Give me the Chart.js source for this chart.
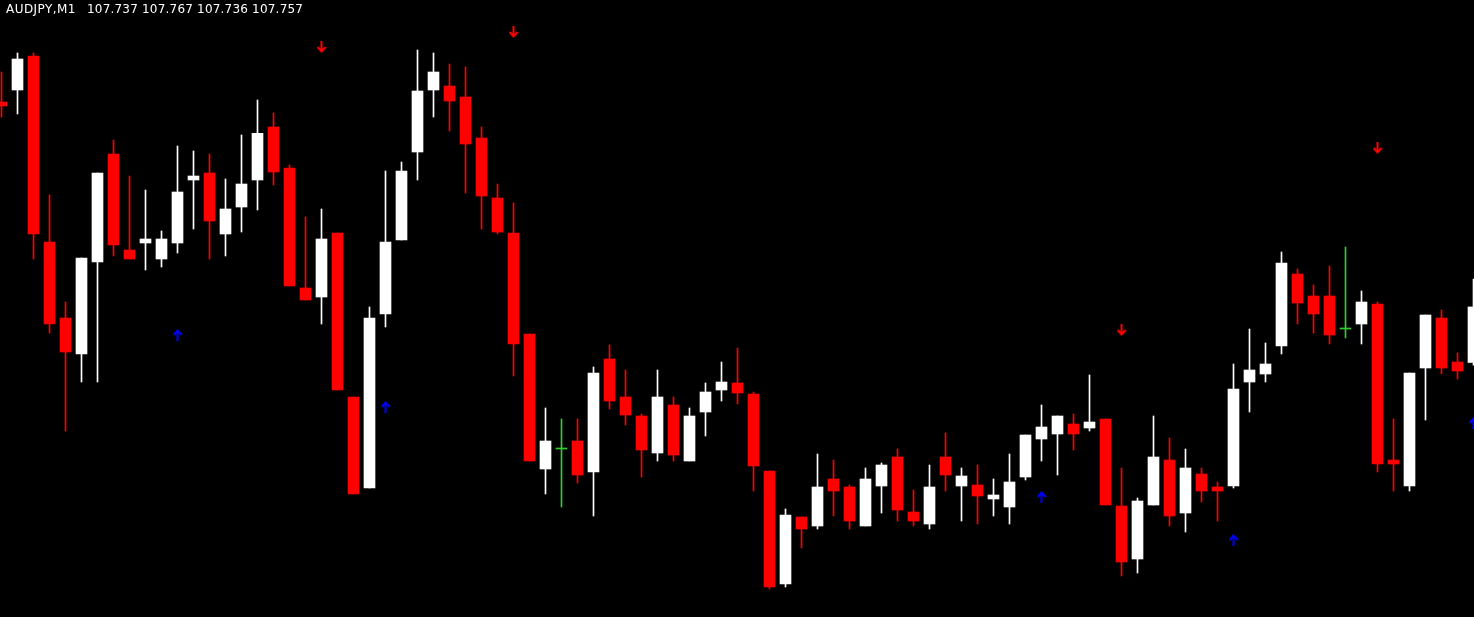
<!DOCTYPE html>
<html>
<head>
<meta charset="utf-8">
<title>AUDJPY,M1</title>
<script src="https://cdn.jsdelivr.net/npm/chart.js@4.4.0/dist/chart.umd.min.js"></script>
<style>
  html, body { margin: 0; padding: 0; background: #000; }
  #wrap { position: relative; width: 1474px; height: 617px; overflow: hidden; }
  #caption { position: absolute; left: 0; top: 2px; color: #fff; font: 12px "DejaVu Sans", sans-serif; line-height: 14px; white-space: pre; }
  #caption span { position: absolute; top: 0; }
</style>
</head>
<body>
<div id="wrap">
  <canvas id="priceChart"></canvas>
  <div id="caption"><span id="symbol" style="left:6px; letter-spacing:0.45px"></span><span id="ohlc" style="left:87px; letter-spacing:0.2px"></span></div>
</div>
<script>
const symbol = 'AUDJPY';
const period = 'M1';

// one bar per minute, oldest first (last bar is the live one)
const opens = [
  107.83078, 107.83510, 107.84734, 107.78038, 107.75302, 107.74006, 107.77318, 107.81206, 107.77750, 107.78002,
  107.77426, 107.78002, 107.80270, 107.80522, 107.78326, 107.79298, 107.80270, 107.82178, 107.80702, 107.76382,
  107.76058, 107.78362, 107.72458, 107.69182, 107.75446, 107.78110, 107.81278, 107.83510, 107.83654, 107.83258,
  107.81782, 107.79622, 107.78362, 107.74726, 107.69866, 107.70586, 107.70874, 107.69758, 107.73826, 107.72458,
  107.71774, 107.70442, 107.72170, 107.70154, 107.71918, 107.72710, 107.72962, 107.72566, 107.69794, 107.65726,
  107.68138, 107.67814, 107.69506, 107.69218, 107.67814, 107.69254, 107.70298, 107.68318, 107.67886, 107.70298,
  107.69254, 107.69290, 107.68786, 107.68498, 107.69578, 107.70946, 107.71126, 107.71486, 107.71342, 107.71666,
  107.68534, 107.66626, 107.68570, 107.70190, 107.68282, 107.69686, 107.69218, 107.69254, 107.72998, 107.73286,
  107.74294, 107.76886, 107.76094, 107.76094, 107.74906, 107.75086, 107.75806, 107.70190, 107.69254, 107.73502,
  107.75302, 107.73718, 107.737
];
const highs = [
  107.84158, 107.84842, 107.84842, 107.79730, 107.75878, 107.77462, 107.80522, 107.81710, 107.80414, 107.79910,
  107.78434, 107.81494, 107.81314, 107.81206, 107.80306, 107.81890, 107.83150, 107.82682, 107.80810, 107.78938,
  107.79226, 107.78362, 107.72458, 107.75698, 107.80594, 107.80918, 107.84950, 107.84842, 107.84446, 107.84338,
  107.82178, 107.80126, 107.79442, 107.74726, 107.72062, 107.71666, 107.71666, 107.73538, 107.74330, 107.73430,
  107.71846, 107.73430, 107.72458, 107.72062, 107.72962, 107.73718, 107.74222, 107.72638, 107.69794, 107.68426,
  107.68138, 107.70406, 107.70190, 107.69290, 107.69902, 107.70082, 107.70586, 107.69110, 107.70010, 107.71162,
  107.69902, 107.70010, 107.69506, 107.70406, 107.71090, 107.72170, 107.71774, 107.71846, 107.73250, 107.71666,
  107.69902, 107.68822, 107.71774, 107.70982, 107.70586, 107.69902, 107.69398, 107.73646, 107.74906, 107.74402,
  107.77678, 107.77066, 107.76490, 107.77174, 107.77858, 107.76274, 107.75878, 107.71666, 107.73322, 107.75410,
  107.75590, 107.74042, 107.767
];
const lows = [
  107.82538, 107.82646, 107.77426, 107.74762, 107.71234, 107.72998, 107.72998, 107.77534, 107.77426, 107.77030,
  107.77138, 107.77642, 107.78506, 107.77426, 107.77534, 107.78398, 107.79190, 107.80090, 107.76454, 107.75950,
  107.75086, 107.72710, 107.68966, 107.69182, 107.74978, 107.78110, 107.80270, 107.82538, 107.82034, 107.79802,
  107.78506, 107.78326, 107.73214, 107.70154, 107.68966, 107.68498, 107.69362, 107.68174, 107.72026, 107.71450,
  107.69578, 107.70154, 107.70154, 107.70154, 107.71054, 107.72314, 107.72206, 107.69074, 107.65546, 107.65618,
  107.67022, 107.67706, 107.68174, 107.67706, 107.67814, 107.68282, 107.67994, 107.67814, 107.67706, 107.69074,
  107.67994, 107.67886, 107.68174, 107.67886, 107.69470, 107.70154, 107.69650, 107.70550, 107.71234, 107.68570,
  107.66014, 107.66122, 107.68570, 107.67814, 107.67598, 107.68678, 107.67994, 107.69182, 107.71918, 107.72998,
  107.74006, 107.75086, 107.74762, 107.74366, 107.74582, 107.74366, 107.69758, 107.69074, 107.69074, 107.71630,
  107.73286, 107.73106, 107.736
];
const closes = [
  107.82934, 107.84626, 107.78326, 107.75086, 107.74078, 107.77462, 107.80522, 107.77930, 107.77426, 107.78146,
  107.78146, 107.79838, 107.80414, 107.78794, 107.79226, 107.80126, 107.81950, 107.80558, 107.76454, 107.75950,
  107.78146, 107.72710, 107.68966, 107.75302, 107.78038, 107.80594, 107.83474, 107.84158, 107.83114, 107.81566,
  107.79694, 107.78398, 107.74366, 107.70154, 107.70874, 107.70586, 107.69650, 107.73322, 107.72314, 107.71810,
  107.70550, 107.72458, 107.70370, 107.71774, 107.72638, 107.72998, 107.72602, 107.69974, 107.65618, 107.68210,
  107.67706, 107.69218, 107.69074, 107.67994, 107.69506, 107.70010, 107.68390, 107.67994, 107.69218, 107.69650,
  107.69614, 107.68894, 107.68930, 107.69398, 107.71090, 107.71378, 107.71774, 107.71126, 107.71558, 107.68570,
  107.66518, 107.68714, 107.70298, 107.68174, 107.69902, 107.69074, 107.69074, 107.72746, 107.73430, 107.73646,
  107.77282, 107.75842, 107.75446, 107.74690, 107.74906, 107.75878, 107.70046, 107.70046, 107.73322, 107.75410,
  107.73502, 107.73394, 107.757
];

// indicator signals: bar index and price level of the arrow
const sellBars = [20, 32, 70, 86];
const sellLevels = [107.85058, 107.85598, 107.74870, 107.81422];
const buyBars = [11, 24, 65, 77, 92];
const buyLevels = [107.74690, 107.72098, 107.68858, 107.67310, 107.71522];

// visible price window of the chart
const priceMax = 107.8675;
const priceMin = 107.64538;

function candleColor(i) {
  if (closes[i] > opens[i]) return '#ffffff';
  if (closes[i] < opens[i]) return '#ff0000';
  return '#32cd32';
}

function makeArrow(color, down) {
  const c = document.createElement('canvas');
  c.width = 10;
  c.height = 12;
  const g = c.getContext('2d');
  g.strokeStyle = color;
  g.fillStyle = color;
  g.lineWidth = 2;
  if (down) {
    g.fillRect(4, 0, 2, 10);
    g.beginPath();
    g.moveTo(1, 6); g.lineTo(5, 10.5); g.lineTo(9, 6);
    g.stroke();
  } else {
    g.fillRect(4, 2, 2, 10);
    g.beginPath();
    g.moveTo(1, 6); g.lineTo(5, 1.5); g.lineTo(9, 6);
    g.stroke();
  }
  return c;
}

function drawChart() {
  document.getElementById('symbol').textContent = symbol + ',' + period;
  const last = opens.length - 1;
  document.getElementById('ohlc').textContent =
    [opens[last], highs[last], lows[last], closes[last]].map(v => v.toFixed(3)).join(' ');

  const colors = opens.map((o, i) => candleColor(i));
  const wicks = opens.map((o, i) => ({ x: i, y: [lows[i], highs[i]] }));
  const bodies = opens.map((o, i) => ({ x: i, y: [opens[i], closes[i]] }));

  const ctx = document.getElementById('priceChart').getContext('2d');
  new Chart(ctx, {
    type: 'bar',
    data: {
      datasets: [
        {
          type: 'scatter',
          label: 'sell',
          data: sellBars.map((b, i) => ({ x: b, y: sellLevels[i] })),
          pointStyle: makeArrow('#ff0000', true),
          order: 0
        },
        {
          type: 'scatter',
          label: 'buy',
          data: buyBars.map((b, i) => ({ x: b, y: buyLevels[i] })),
          pointStyle: makeArrow('#0000ff', false),
          order: 0
        },
        {
          label: 'body',
          data: bodies,
          backgroundColor: colors,
          barThickness: 11,
          minBarLength: 1,
          grouped: false,
          order: 1
        },
        {
          label: 'wick',
          data: wicks,
          backgroundColor: colors,
          barThickness: 1,
          grouped: false,
          order: 2
        }
      ]
    },
    options: {
      responsive: true,
      maintainAspectRatio: false,
      animation: false,
      events: [],
      layout: { padding: 0, autoPadding: false },
      plugins: {
        legend: { display: false },
        tooltip: { enabled: false },
        title: { display: false }
      },
      scales: {
        x: {
          type: 'linear',
          display: false,
          offset: false,
          min: -0.09375,
          max: opens.length - 1 + 0.03125
        },
        y: {
          type: 'linear',
          display: false,
          min: priceMin,
          max: priceMax
        }
      }
    }
  });
}

document.addEventListener('DOMContentLoaded', drawChart);
</script>
</body>
</html>
